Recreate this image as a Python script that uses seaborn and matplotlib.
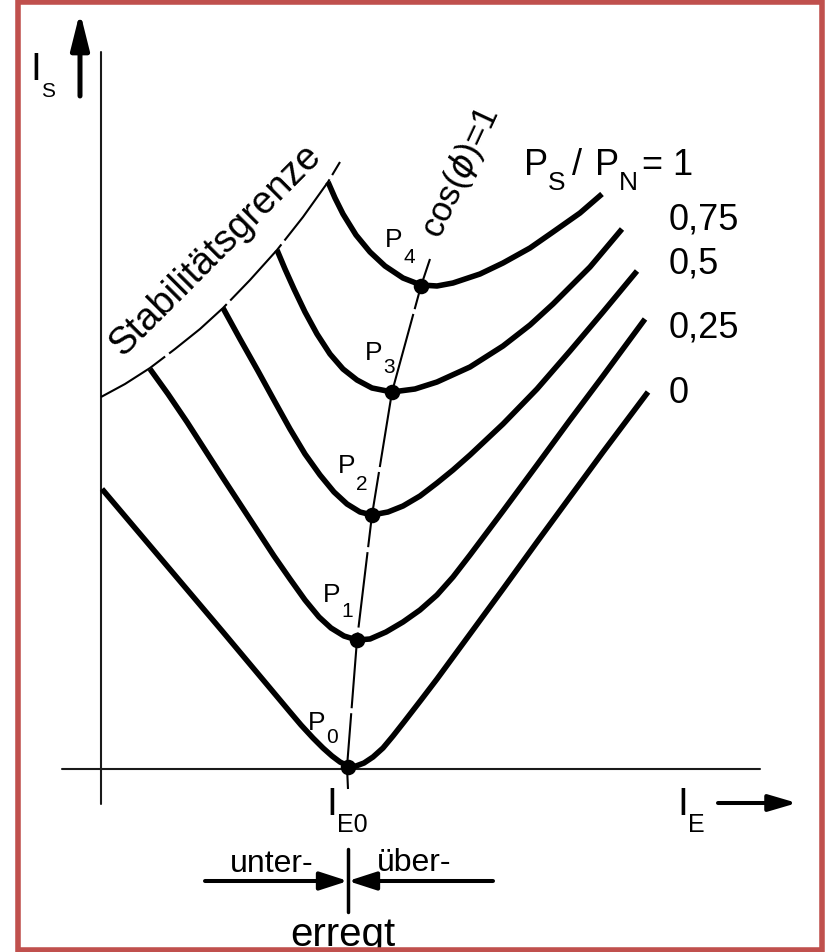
import numpy as np
import seaborn as sns
import matplotlib.pyplot as plt
from matplotlib.patches import Rectangle

# V-curves of a synchronous machine: stator current I_S over field current I_E
# drawing units, origin where the two axes cross

# P_S / P_N = 0  (minimum at P0)
ie_0 = [1, 56, 122, 189, 200, 212, 222, 231, 239, 247, 255, 263, 272, 282, 292, 303, 320, 336,
        369, 402, 436, 469, 502, 547]
is_0 = [280, 215, 137, 57, 44, 31, 21, 13, 7, 3, 3, 6, 12, 21, 33, 47, 69, 90,
        135, 180, 227, 272, 317, 377]

# P_S / P_N = 0,25  (minimum at P1)
ie_25 = [49, 67, 86, 104, 122, 139, 156, 173, 189, 204, 218, 230, 243, 256,
         269, 285, 302, 319, 336, 352, 369, 402, 436, 469, 502, 544]
is_25 = [400, 375, 347, 319, 291, 265, 239, 213, 190, 169, 152, 141, 133, 129,
         130, 137, 147, 159, 174, 192, 214, 258, 304, 349, 393, 450]

# P_S / P_N = 0,5  (minimum at P2)
ie_50 = [122, 139, 157, 174, 189, 204, 219, 233, 246, 259, 271,
         287, 302, 319, 336, 352, 369, 402, 436, 469, 502, 536]
is_50 = [461, 430, 398, 367, 340, 315, 294, 277, 265, 257, 254,
         257, 263, 273, 286, 299, 314, 345, 380, 418, 457, 498]

# P_S / P_N = 0,75  (minimum at P3)
ie_75 = [176, 184, 193, 204, 216, 229, 242, 256, 271, 291, 314, 336, 369, 402, 429, 452, 489, 521]
is_75 = [519, 500, 480, 457, 435, 415, 400, 389, 381, 377, 380, 387, 402, 423, 444, 465, 502, 540]

# P_S / P_N = 1  (minimum at P4)
ie_100 = [227, 234, 242, 255, 269, 284, 302, 320, 336, 352, 379, 402, 429, 452, 479, 501]
is_100 = [587, 571, 555, 534, 517, 503, 491, 484, 483, 486, 495, 506, 521, 537, 556, 575]

# stability limit and the cos(phi)=1 line through the minima
ie_stab = [0, 24, 49, 74, 99, 122, 149, 176, 202, 227, 239]
is_stab = [372, 385, 401, 420, 440, 461, 489, 519, 552, 587, 607]
ie_cos = [247, 246, 256, 271, 291, 320, 329]
is_cos = [-20, 2, 129, 254, 377, 483, 510]

# operating points P0..P4
pt_names = ['0', '1', '2', '3', '4']
pt_ie = [247, 256, 271, 291, 320]
pt_is = [2, 129, 254, 377, 483]

load_labels = ['0', '0,25', '0,5', '0,75']
load_label_is = [367, 433, 497, 540]

# axis extents
xaxis_ie = [-39, 659]
yaxis_is = [-35, 717]

sns.set_theme(style='white')
plt.rcParams['font.family'] = ['Liberation Sans', 'DejaVu Sans']
plt.rcParams['mathtext.fontset'] = 'dejavusans'
plt.rcParams['lines.scale_dashes'] = False

fig = plt.figure(figsize=(8.27, 9.53), dpi=100)
ax = fig.add_axes([0, 0, 1, 1])
ax.set_xlim(-101, 726)
ax.set_ylim(-183, 770)
ax.set_axis_off()

# axes
ax.plot(xaxis_ie, [0, 0], color='#1a1a1a', lw=1.5)
ax.plot([0, 0], yaxis_is, color='#1a1a1a', lw=1.5)

# thin dashed construction lines
dash = (0, (54.7, 3.6))
ax.plot(ie_stab, is_stab, color='black', lw=1.5, linestyle=dash, zorder=2)
ax.plot(ie_cos, is_cos, color='black', lw=1.5, linestyle=dash, zorder=2)

# the V-curves
for ie, i_s in [(ie_0, is_0), (ie_25, is_25), (ie_50, is_50), (ie_75, is_75), (ie_100, is_100)]:
    sns.lineplot(x=ie, y=i_s, sort=False, estimator=None, color='black', lw=4,
                 solid_capstyle='butt', solid_joinstyle='round', legend=False, ax=ax, zorder=3)

sns.scatterplot(x=pt_ie, y=pt_is, s=125, color='black', linewidth=0, legend=False, ax=ax, zorder=5)


def txt(x, y, s, size, **kw):
    ax.text(x, y, s, fontsize=size, ha=kw.pop('ha', 'left'), va='baseline', color='black', **kw)


# point labels P0..P4
p_pos = [(207, 40), (222, 168), (237, 297), (264, 410), (284, 523)]
sub_pos = [(225, 27), (240, 153), (255, 280), (282, 397), (302, 507)]
for name, (px, py), (sx, sy) in zip(pt_names, p_pos, sub_pos):
    txt(px, py, 'P', 19)
    txt(sx, sy, name, 15)

# load labels
txt(423, 595, 'P', 26)
txt(447, 580, 'S', 19)
txt(471, 595, '/', 26)
txt(494, 595, 'P', 26)
txt(518, 580, 'N', 19)
txt(541, 595, '= 1', 26)
for lab, y in zip(load_labels, load_label_is):
    txt(568, y, lab, 26)

txt(22, 413, 'Stabilitätsgrenze', 27.5, rotation=45, rotation_mode='anchor')
txt(339, 530, r'cos($\phi$)=1', 25, rotation=65, rotation_mode='anchor')

# axis labels
txt(-71, 690, 'I', 28)
txt(-60, 673, 'S', 15)
txt(225, -45, 'I', 28)
txt(236, -62, 'E0', 18)
txt(576, -45, 'I', 28)
txt(587, -62, 'E', 18)

arrow = dict(color='black', shrinkA=0, shrinkB=0, mutation_scale=10)
ax.annotate('', xy=(-21, 757), xytext=(-21, 673),
            arrowprops=dict(arrowstyle='-|>,head_length=2.2,head_width=0.55', lw=3.6, **arrow))
ax.annotate('', xy=(696, -34), xytext=(617, -34),
            arrowprops=dict(arrowstyle='-|>,head_length=1.7,head_width=0.5', lw=2.9, **arrow))

# unter-/uebererregt marker
ax.annotate('', xy=(247, -112), xytext=(104, -112),
            arrowprops=dict(arrowstyle='-|>,head_length=1.7,head_width=0.55', lw=2.9, **arrow))
ax.annotate('', xy=(247, -112), xytext=(392, -112),
            arrowprops=dict(arrowstyle='-|>,head_length=1.7,head_width=0.55', lw=2.9, **arrow))
ax.plot([247, 247], [-80, -143], color='black', lw=2.5)
txt(129, -102, 'unter-', 23)
txt(276, -101, 'über-', 23)
txt(242, -176, 'erregt', 29, ha='center')

ax.add_patch(Rectangle((-83.5, -180.5), 804, 947.5, fill=False, ec='#c0504d', lw=4,
                       zorder=10, clip_on=False))

fig.savefig('out.png', dpi=100, facecolor='white')
